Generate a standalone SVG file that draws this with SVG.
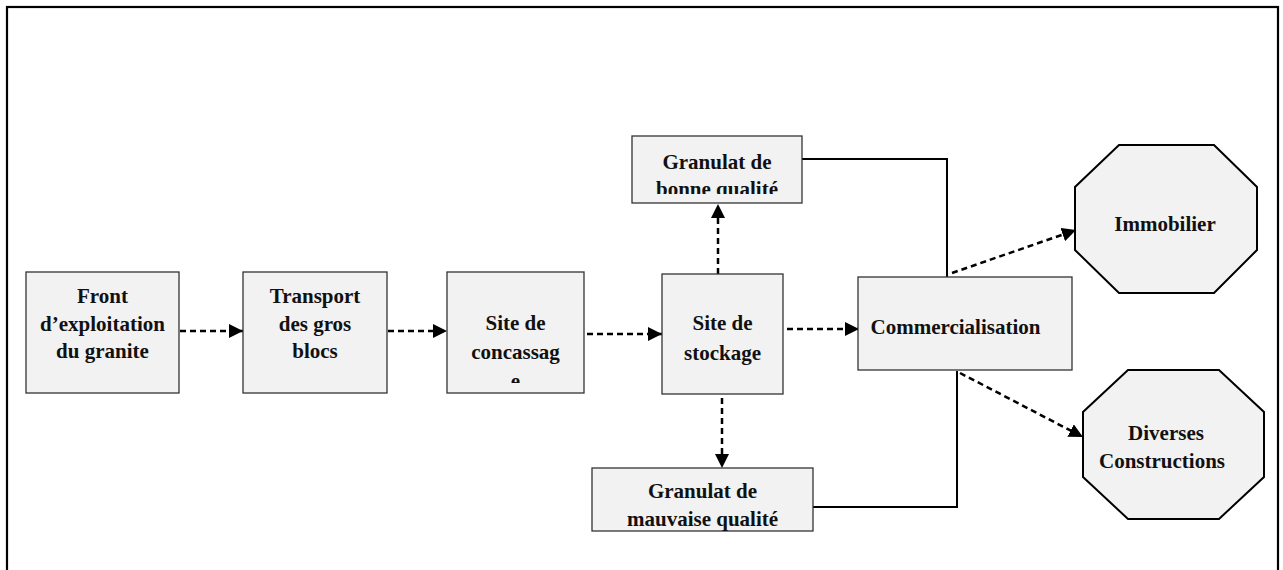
<svg xmlns="http://www.w3.org/2000/svg" width="1283" height="570" viewBox="0 0 1283 570">
<style>
.box{fill:#f2f2f2;stroke:#333;stroke-width:1.3}
.oct{fill:#f2f2f2;stroke:#000;stroke-width:2}
.t{font-family:"Liberation Serif","Times New Roman",serif;font-weight:bold;font-size:21px;fill:#111;text-anchor:middle}
.dash{fill:none;stroke:#000;stroke-width:2.5;stroke-dasharray:6 4}
.solid{fill:none;stroke:#000;stroke-width:2}
</style>
<defs>
<marker id="ah" viewBox="0 0 14 14" refX="14" refY="7" markerWidth="14" markerHeight="14" markerUnits="userSpaceOnUse" orient="auto">
<path d="M0,0 L14,7 L0,14 Z" fill="#000"/>
</marker>
<clipPath id="c3"><rect x="447" y="272" width="137" height="111"/></clipPath>
<clipPath id="cb"><rect x="632" y="136" width="170" height="58"/></clipPath>
</defs>
<rect x="7" y="7" width="1271" height="580" fill="none" stroke="#000" stroke-width="2.2"/>
<g id="connectors">
<line class="dash" x1="180" y1="331" x2="243" y2="331" marker-end="url(#ah)"/>
<line class="dash" x1="388" y1="331" x2="447" y2="331" marker-end="url(#ah)"/>
<line class="dash" x1="587" y1="334" x2="662" y2="334" marker-end="url(#ah)"/>
<line class="dash" x1="787" y1="329" x2="859" y2="329" marker-end="url(#ah)"/>
<line class="dash" x1="718" y1="274" x2="718" y2="204" marker-end="url(#ah)"/>
<line class="dash" x1="722" y1="398" x2="722" y2="468" marker-end="url(#ah)"/>
<line class="dash" x1="952" y1="273" x2="1076" y2="230" marker-end="url(#ah)"/>
<line class="dash" x1="960" y1="373" x2="1083" y2="437" marker-end="url(#ah)"/>
<polyline class="solid" points="802,159 947,159 947,277"/>
<polyline class="solid" points="813,507 957,507 957,371"/>
</g>
<g id="front">
<rect class="box" x="26" y="272" width="153" height="121"/>
<text class="t" x="102.5" y="303">Front</text>
<text class="t" x="102.5" y="331">d’exploitation</text>
<text class="t" x="102.5" y="358">du granite</text>
</g>
<g id="transport">
<rect class="box" x="243" y="272" width="144" height="121"/>
<text class="t" x="315" y="303">Transport</text>
<text class="t" x="315" y="331">des gros</text>
<text class="t" x="315" y="358">blocs</text>
</g>
<g id="concassage">
<rect class="box" x="447" y="272" width="137" height="121"/>
<g clip-path="url(#c3)">
<text class="t" x="515.5" y="330">Site de</text>
<text class="t" x="515.5" y="359">concassag</text>
<text class="t" x="515.5" y="388">e</text>
</g>
</g>
<g id="stockage">
<rect class="box" x="662" y="274" width="121" height="120"/>
<text class="t" x="722.5" y="330">Site de</text>
<text class="t" x="722.5" y="360">stockage</text>
</g>
<g id="bonne">
<rect class="box" x="632" y="136" width="170" height="67"/>
<g clip-path="url(#cb)">
<text class="t" x="717" y="169">Granulat de</text>
<text class="t" x="717" y="196">bonne qualité</text>
</g>
</g>
<g id="mauvaise">
<rect class="box" x="592" y="468" width="221" height="63"/>
<text class="t" x="702.5" y="498">Granulat de</text>
<text class="t" x="702.5" y="526">mauvaise qualité</text>
</g>
<g id="commercialisation">
<rect class="box" x="858" y="277" width="214" height="93"/>
<text class="t" x="955.5" y="334">Commercialisation</text>
</g>
<g id="immobilier">
<polygon class="oct" points="1119,145 1214,145 1257,187 1257,250 1214,293 1119,293 1075,250 1075,187"/>
<text class="t" x="1165" y="231">Immobilier</text>
</g>
<g id="diverses">
<polygon class="oct" points="1128,370 1219,370 1264,412 1264,477 1219,519 1128,519 1083,477 1083,412"/>
<text class="t" x="1166" y="440">Diverses</text>
<text class="t" x="1162" y="468">Constructions</text>
</g>
</svg>
